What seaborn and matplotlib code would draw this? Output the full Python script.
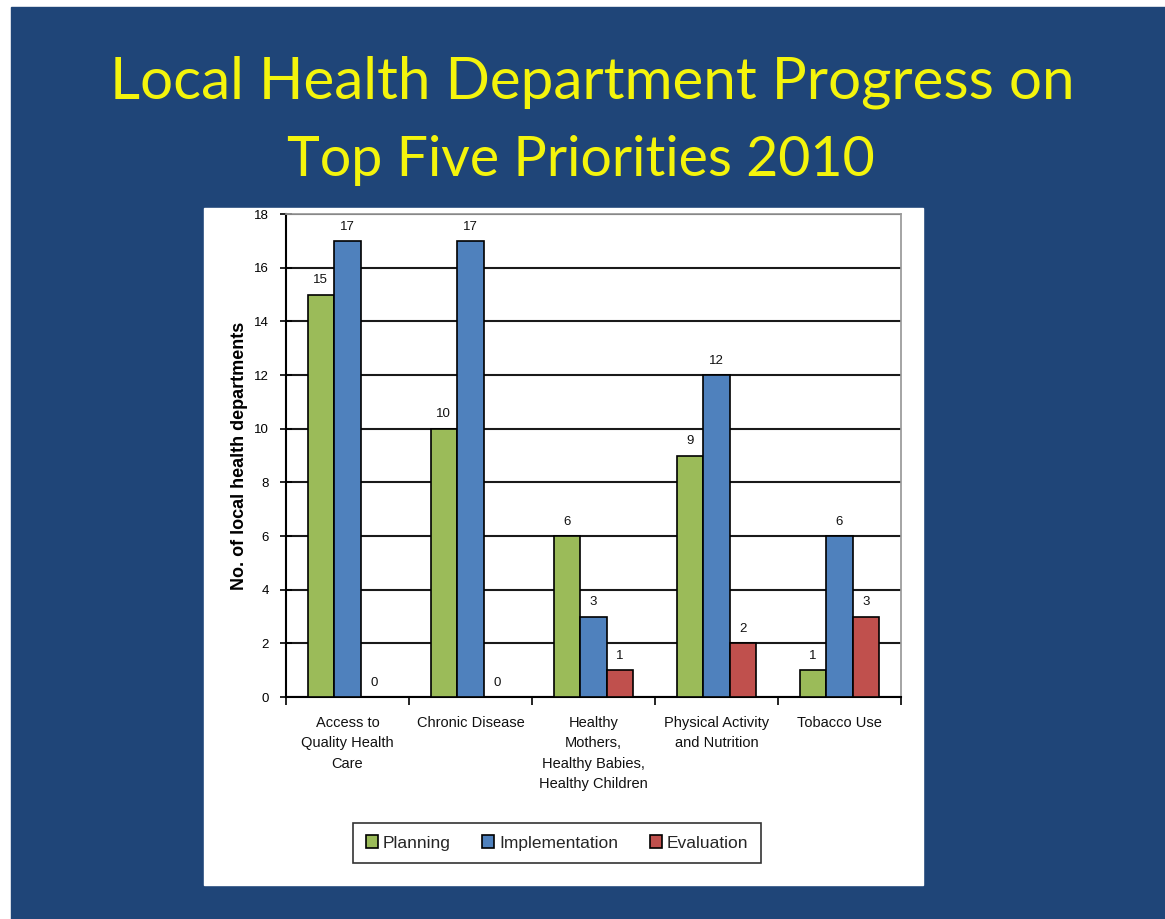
import pandas as pd
import seaborn as sns
import matplotlib.pyplot as plt
from matplotlib.patches import Rectangle
from matplotlib.ticker import MultipleLocator

# data
priorities = [
    "Access to\nQuality Health\nCare",
    "Chronic Disease",
    "Healthy\nMothers,\nHealthy Babies,\nHealthy Children",
    "Physical Activity\nand Nutrition",
    "Tobacco Use",
]
stages = ["Planning", "Implementation", "Evaluation"]
planning = [15, 10, 6, 9, 1]
implementation = [17, 17, 3, 12, 6]
evaluation = [0, 0, 1, 2, 3]

title_lines = ["Local Health Department Progress on", "Top Five Priorities 2010"]
y_label = "No. of local health departments"

slide_blue = "#1f4578"
title_yellow = "#f4f40c"
stage_colors = ["#9bbb59", "#4f81bd", "#c0504d"]

rows = []
for stage, vals in zip(stages, [planning, implementation, evaluation]):
    for p, v in zip(priorities, vals):
        rows.append({"Priority": p, "Stage": stage, "Count": v})
df = pd.DataFrame(rows)

sns.set_theme(style="white")
plt.rcParams["font.family"] = ["Liberation Sans", "DejaVu Sans"]

W, H = 1165, 919
fig = plt.figure(figsize=(W / 100, H / 100), dpi=100, facecolor="white")


def box(x0, y0, x1, y1):
    return [x0 / W, 1 - y1 / H, (x1 - x0) / W, (y1 - y0) / H]


# slide background and white chart panel
fig.add_artist(Rectangle((11 / W, 0), (W - 11) / W, (H - 7) / H,
                         transform=fig.transFigure, color=slide_blue, zorder=-10))
fig.add_artist(Rectangle((204 / W, 1 - 885 / H), (923 - 204) / W, (885 - 208) / H,
                         transform=fig.transFigure, color="white", zorder=-9))

fig.text(592 / W, 1 - 82 / H, title_lines[0], ha="center", va="center",
         color=title_yellow, fontsize=42, family=["Lato", "DejaVu Sans"])
fig.text(581 / W, 1 - 160 / H, title_lines[1], ha="center", va="center",
         color=title_yellow, fontsize=40, family=["Lato", "DejaVu Sans"])

ax = fig.add_axes(box(286, 214, 901, 697))
sns.barplot(data=df, x="Priority", y="Count", hue="Stage", hue_order=stages,
            palette=stage_colors, width=0.65, edgecolor="black", linewidth=1.2,
            saturation=1, ax=ax, zorder=3)

for cont in ax.containers:
    ax.bar_label(cont, padding=6, fontsize=9.5, color="#111111")

ax.set_ylim(0, 18)
ax.set_xlim(-0.5, 4.5)
ax.yaxis.set_major_locator(MultipleLocator(2))
ax.grid(axis="y", color="#1a1a1a", linewidth=1.5, zorder=0)
ax.set_axisbelow(True)

ax.spines["left"].set_color("black")
ax.spines["bottom"].set_color("black")
ax.spines["left"].set_linewidth(1.5)
ax.spines["bottom"].set_linewidth(1.5)
ax.spines["top"].set_color("#999999")
ax.spines["right"].set_color("#999999")

ax.tick_params(axis="y", direction="inout", length=9, width=1.2, colors="black",
               labelsize=9.5, pad=8, left=True)
ax.set_xticks([i + 0.5 for i in range(-1, 5)], minor=True)
ax.tick_params(axis="x", which="minor", direction="out", length=6, width=1.2,
               color="black", bottom=True)
ax.tick_params(axis="x", which="major", length=0, pad=14, labelsize=10.5,
               labelcolor="#111111")
for lbl in ax.get_xticklabels():
    lbl.set_linespacing(1.55)
    lbl.set_verticalalignment("top")

ax.set_xlabel("")
ax.set_ylabel(y_label, fontsize=13, fontweight="bold", color="black")
ax.yaxis.set_label_coords(-0.062, 0.5)

handles, labels = ax.get_legend_handles_labels()
ax.legend_.remove()
leg = fig.legend(handles, labels, loc="center", ncol=3,
                 bbox_to_anchor=(557 / W, 1 - 843 / H), bbox_transform=fig.transFigure,
                 frameon=True, fancybox=False, edgecolor="black", fontsize=12.5,
                 handlelength=0.7, handleheight=0.7, handletextpad=0.3,
                 columnspacing=1.8, borderpad=0.7)
leg.get_frame().set_linewidth(1.2)

fig.savefig("out.png", dpi=100, facecolor="white")
